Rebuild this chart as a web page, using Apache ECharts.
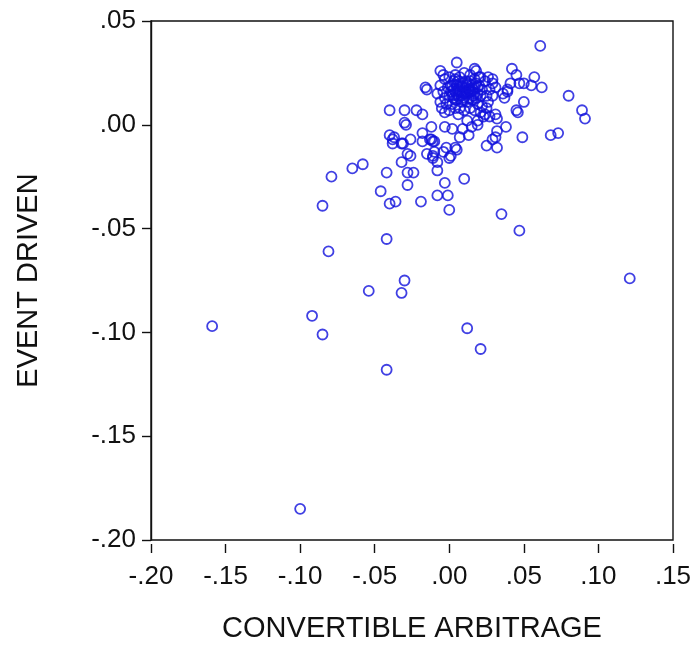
<!DOCTYPE html>
<html>
<head>
<meta charset="utf-8">
<script src="https://cdn.jsdelivr.net/npm/echarts@6/dist/echarts.min.js"></script>
<style>html,body{margin:0;padding:0;background:#fff}#c{width:696px;height:648px}</style>
</head>
<body>
<div id="c"></div>
<script>
// CONVERTIBLE ARBITRAGE (x) vs EVENT DRIVEN (y) monthly returns
const convArb = [
 -0.100,-0.159,-0.092,-0.085,-0.042,0.012,0.021,0.121,-0.054,-0.030,-0.032,-0.081,-0.042,0.047,0.035,
 -0.085,-0.079,-0.065,-0.058,-0.042,-0.046,-0.040,-0.036,-0.019,-0.028,-0.028,-0.024,-0.032,-0.028,-0.026,
 -0.008,-0.003,0.010,-0.008,-0.001,0.000,0.000,
 0.061,0.080,0.089,0.091,0.042,0.057,0.062,0.050,0.047,0.041,0.039,0.037,0.050,0.045,0.046,0.049,0.068,0.073,
 0.032,0.025,0.031,0.038,0.029,0.027,0.031,0.032,0.026,0.029,0.027,0.029,0.026,0.036,0.039,0.032,
 0.005,-0.006,0.017,0.018,-0.016,-0.040,-0.030,-0.022,-0.018,-0.040,-0.038,-0.030,-0.026,-0.032,-0.018,
 -0.012,-0.011,-0.015,-0.011,-0.008,-0.002,0.004,0.001,0.013,0.009,0.015,0.019,0.023,-0.003,0.002,0.007,
 -0.012,-0.037,-0.038,-0.031,-0.018,-0.013,-0.010,-0.011,-0.010,-0.004,0.005,0.019,0.012,-0.029,
 -0.004,0.004,0.020,0.029,0.031,0.045,0.055,-0.015,
 -0.006,-0.003,0.000,0.004,0.007,0.010,0.014,0.017,0.021,0.024,
 -0.008,-0.004,-0.001,0.002,0.005,0.009,0.012,0.015,0.019,0.022,
 -0.006,-0.003,0.000,0.004,0.007,0.010,0.014,0.017,0.021,0.025,
 -0.005,-0.002,0.002,0.005,0.009,0.012,0.015,0.019,0.022,0.025,
 -0.003,0.000,0.004,0.007,0.010,0.014,0.017,0.021,0.024,0.006,
 0.009,0.013,0.006,0.003,0.016,
 0.006,0.011,0.016,0.008,0.013,0.018,0.003,0.011,0.014,0.001,
 0.001,0.003,0.005,0.007,0.009,0.011,0.013,0.015,0.017,0.019,
 0.002,0.004,0.008,0.010,0.012,0.014,0.016,0.018,0.020,0.006
];
const eventDriven = [
 -0.185,-0.097,-0.092,-0.101,-0.118,-0.098,-0.108,-0.074,-0.080,-0.075,-0.081,-0.061,-0.055,-0.051,-0.043,
 -0.039,-0.025,-0.021,-0.019,-0.023,-0.032,-0.038,-0.037,-0.037,-0.029,-0.023,-0.023,-0.018,-0.014,-0.015,
 -0.022,-0.028,-0.026,-0.034,-0.034,-0.041,-0.016,
 0.038,0.014,0.007,0.003,0.027,0.023,0.018,0.020,0.020,0.020,0.017,0.013,0.011,0.007,0.006,-0.006,-0.005,-0.004,
 -0.011,-0.010,-0.006,-0.001,-0.007,0.004,0.005,0.003,0.011,0.014,0.017,0.022,0.023,0.015,0.016,-0.003,
 0.030,0.026,0.027,0.026,0.018,0.007,0.007,0.007,0.005,-0.005,-0.007,0.001,-0.007,-0.009,-0.004,
 -0.007,-0.008,-0.014,-0.015,-0.018,-0.011,-0.011,-0.015,-0.005,-0.002,-0.001,0.002,0.004,-0.001,-0.002,-0.006,
 -0.001,-0.006,-0.009,-0.009,-0.008,-0.007,-0.008,-0.016,-0.013,-0.013,-0.012,0.000,0.002,0.000,
 0.024,0.022,0.023,0.020,0.018,0.024,0.019,0.017,
 0.019,0.022,0.023,0.024,0.023,0.025,0.024,0.022,0.023,0.021,
 0.015,0.016,0.018,0.019,0.019,0.020,0.019,0.019,0.018,0.017,
 0.011,0.013,0.014,0.016,0.016,0.015,0.016,0.015,0.014,0.014,
 0.008,0.010,0.010,0.012,0.012,0.011,0.012,0.010,0.009,0.008,
 0.006,0.007,0.008,0.008,0.007,0.008,0.007,0.006,0.005,0.005,
 0.018,0.017,0.014,0.013,0.014,
 0.017,0.016,0.017,0.014,0.013,0.020,0.021,0.021,0.021,0.016,
 0.019,0.017,0.015,0.019,0.016,0.018,0.020,0.016,0.018,0.015,
 0.014,0.012,0.011,0.013,0.015,0.017,0.012,0.013,0.019,0.021
];
const xTicks = [-0.20,-0.15,-0.10,-0.05,0.00,0.05,0.10,0.15];
const yTicks = [-0.20,-0.15,-0.10,-0.05,0.00,0.05];

const pts = convArb.map((v,i)=>[v, eventDriven[i]]);
const fmt = v => v.toFixed(2).replace('0.', '.');
const font = 'Liberation Sans, Arial, Helvetica, sans-serif';

const chart = echarts.init(document.getElementById('c'), null, {renderer:'canvas'});
chart.setOption({
  animation:false,
  backgroundColor:'#fff',
  grid:{left:151, right:23, top:21, bottom:104, show:true, borderColor:'#111', borderWidth:1.4, backgroundColor:'transparent'},
  xAxis:{
    type:'value', min:xTicks[0], max:xTicks[xTicks.length-1], interval:0.05,
    name:'CONVERTIBLE ARBITRAGE', nameLocation:'middle', nameGap:70,
    nameTextStyle:{fontFamily:font, fontSize:29, color:'#111'},
    offset:4,
    axisLine:{show:false, onZero:false},
    axisTick:{show:true, length:9, lineStyle:{color:'#111', width:1.4}},
    axisLabel:{fontFamily:font, fontSize:26, color:'#111', margin:20, formatter:fmt},
    splitLine:{show:false}
  },
  yAxis:{
    type:'value', min:yTicks[0], max:yTicks[yTicks.length-1], interval:0.05,
    name:'EVENT DRIVEN', nameLocation:'middle', nameGap:108, nameRotate:90,
    nameTextStyle:{fontFamily:font, fontSize:29, color:'#111'},
    axisLine:{show:true, onZero:false, lineStyle:{color:'#111', width:1.4}},
    axisTick:{show:true, length:9, lineStyle:{color:'#111', width:1.4}},
    axisLabel:{fontFamily:font, fontSize:26, color:'#111', margin:15, formatter:fmt},
    splitLine:{show:false}
  },
  series:[{
    type:'scatter', data:pts, symbol:'circle', symbolSize:10,
    itemStyle:{color:'transparent', borderColor:'#1010dc', borderWidth:1.8}
  }]
});
</script>
</body>
</html>
